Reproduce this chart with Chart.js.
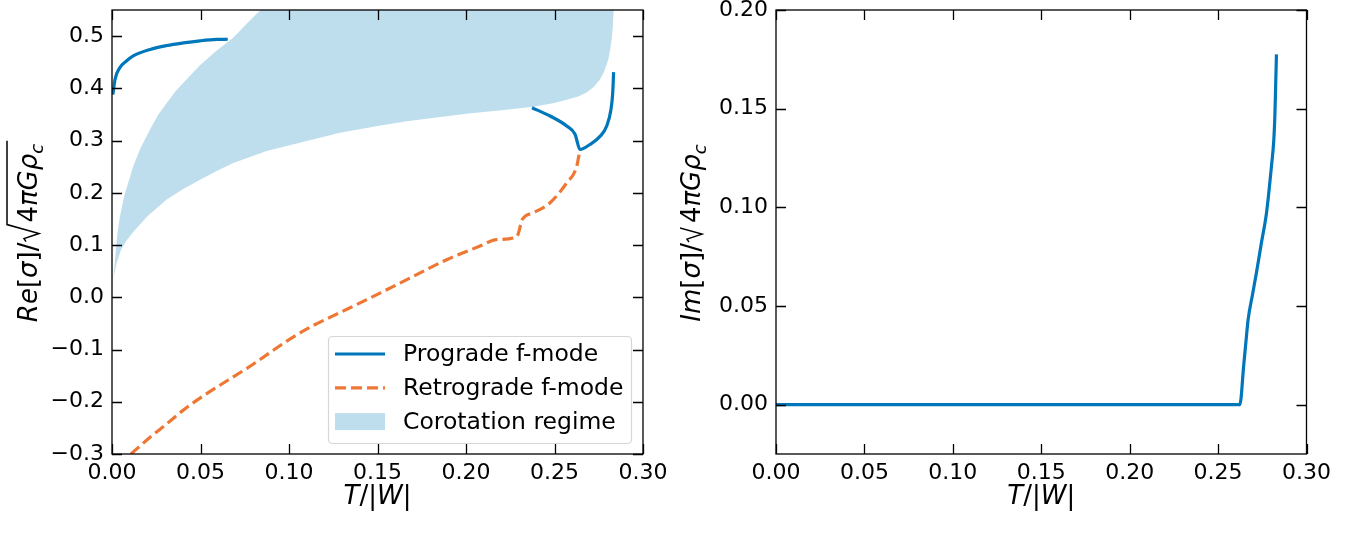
<!DOCTYPE html>
<html lang="en">
<head>
<meta charset="UTF-8">
<title>f-mode frequencies vs T/|W|</title>
<script src="https://cdn.jsdelivr.net/npm/chart.js@4/dist/chart.umd.min.js"></script>
<style>
  html, body { margin: 0; padding: 0; background: #fff; }
  #wrap { position: relative; width: 1359px; height: 534px; }
  canvas { position: absolute; top: 0; }
  #reChart { left: 0; }
  #imChart { left: 680px; }
</style>
</head>
<body>
<div id="wrap">
  <canvas id="reChart" width="680" height="534"></canvas>
  <canvas id="imChart" width="679" height="534"></canvas>
</div>
<script>
// ---------------------------------------------------------------------------
// Daten
// ---------------------------------------------------------------------------
const T_TICKS  = [0, 0.05, 0.10, 0.15, 0.20, 0.25, 0.30];
const RE_TICKS = [-0.3, -0.2, -0.1, 0.0, 0.1, 0.2, 0.3, 0.4, 0.5];
const IM_TICKS = [0, 0.05, 0.10, 0.15, 0.20];

// Prograde f-mode, zwei Aeste (null = Luecke)
const proT  = [0.0005, 0.0017, 0.0045, 0.008, 0.012, 0.0215, 0.031, 0.0403, 0.0497, 0.0591, 0.0654,
               0.15,
               0.2373, 0.2475, 0.2569, 0.2616, 0.2644, 0.2700, 0.2757, 0.2795, 0.2819, 0.2829, 0.2834];
const proRe = [0.388, 0.417, 0.440, 0.452, 0.462, 0.4745, 0.482, 0.487, 0.491, 0.4937, 0.494,
               null,
               0.363, 0.347, 0.328, 0.312, 0.283, 0.2925, 0.308, 0.328, 0.3596, 0.392, 0.431];

// Retrograde f-mode
const retroT  = [0.0107, 0.0215, 0.030, 0.0403, 0.0497, 0.078, 0.1062, 0.1345, 0.1514, 0.1702, 0.1891,
                 0.2079, 0.2173, 0.2286, 0.232, 0.238, 0.2475, 0.2569, 0.2625, 0.2644];
const retroRe = [-0.300, -0.268, -0.245, -0.216, -0.193, -0.132, -0.068, -0.020, 0.008, 0.040, 0.072,
                 0.098, 0.1105, 0.1157, 0.150, 0.1617, 0.181, 0.219, 0.250, 0.283];

// Corotation regime: untere und obere Grenze
const coLowT  = [0, 0.001, 0.0026, 0.005, 0.008, 0.012, 0.020, 0.0309, 0.040, 0.0497, 0.060, 0.0685,
                 0.0874, 0.106, 0.1288, 0.150, 0.1665, 0.190, 0.2041, 0.220, 0.238, 0.250, 0.2569,
                 0.263, 0.2682, 0.272, 0.2757, 0.278, 0.2804, 0.2815, 0.2823, 0.2830, 0.2834, 0.2836];
const coLowRe = [0.0, 0.040, 0.065, 0.090, 0.108, 0.125, 0.155, 0.187, 0.207, 0.225, 0.243, 0.257,
                 0.280, 0.296, 0.315, 0.328, 0.337, 0.347, 0.353, 0.358, 0.365, 0.372, 0.378,
                 0.384, 0.392, 0.402, 0.417, 0.432, 0.455, 0.475, 0.494, 0.520, 0.551, 0.60];
const coUpT   = [0, 0.001, 0.0017, 0.003, 0.0045, 0.007, 0.012, 0.016, 0.0215, 0.026, 0.0309, 0.036,
                 0.0426, 0.0497, 0.059, 0.0685, 0.0765, 0.0842, 0.095, 0.2836];
const coUpRe  = [0.0, 0.045, 0.072, 0.120, 0.155, 0.195, 0.251, 0.285, 0.321, 0.349, 0.372, 0.395,
                 0.419, 0.444, 0.472, 0.497, 0.525, 0.551, 0.58, 0.60];

// Imaginaerteil
const imT   = [0, 0.2623, 0.2645, 0.2657, 0.267, 0.2695, 0.2717, 0.2745, 0.2774, 0.2802, 0.2815, 0.2821, 0.2826, 0.283];
const imVal = [0, 0, 0.020, 0.0314, 0.0432, 0.056, 0.0669, 0.082, 0.0973, 0.121, 0.134, 0.146, 0.163, 0.1775];

// ---------------------------------------------------------------------------
// Stil
// ---------------------------------------------------------------------------
const BLUE   = '#0077bb';
const ORANGE = '#ee7733';
const BAND   = 'rgba(190,222,237,1)';
const FONT   = "'DejaVu Sans'";

const pts = (xs, ys) => xs.map((x, i) => ({ x, y: ys[i] }));
const fmt = (v, d) => (v < -1e-9 ? '\u2212' : '') + Math.abs(v).toFixed(d);

// Text aus Stuecken (kursiv / aufrecht) zeichnen
function pieceWidth(ctx, parts, size) {
  let w = 0;
  for (const p of parts) {
    ctx.font = `${p.it ? 'oblique ' : ''}${size}px ${FONT}`;
    w += ctx.measureText(p.t).width;
  }
  return w;
}
function drawPieces(ctx, parts, x, y, size) {
  for (const p of parts) {
    ctx.font = `${p.it ? 'oblique ' : ''}${size}px ${FONT}`;
    ctx.fillText(p.t, x, y);
    x += ctx.measureText(p.t).width;
  }
  return x;
}

const X_TITLE = [{ t: 'T', it: true }, { t: '/', it: false }, { t: '|', it: false }, { t: 'W', it: true }, { t: '|', it: false }];
const LABEL_SIZE = 26;

function drawYTitle(ctx, name, xBase, cy) {
  const s = LABEL_SIZE;
  const pre = [{ t: name, it: true }, { t: '[', it: false }, { t: 'σ', it: true }, { t: ']', it: false }, { t: '/', it: false }];
  const rad = [{ t: '4', it: false }, { t: 'π', it: true }, { t: 'G', it: true }, { t: 'ρ', it: true }];
  const wPre = pieceWidth(ctx, pre, s);
  const wRadSign = 20;
  const wRad = pieceWidth(ctx, rad, s);
  ctx.font = `oblique 18px ${FONT}`;
  const wSub = ctx.measureText('c').width;
  const total = wPre + wRadSign + wRad + wSub + 2;

  ctx.save();
  ctx.translate(xBase, cy);
  ctx.rotate(-Math.PI / 2);
  ctx.fillStyle = '#000';
  ctx.textBaseline = 'alphabetic';
  ctx.textAlign = 'left';
  let u = -total / 2;
  u = drawPieces(ctx, pre, u, 0, s);
  // Wurzelzeichen
  const a = u;
  ctx.strokeStyle = '#000';
  ctx.lineWidth = 1.5;
  ctx.beginPath();
  ctx.moveTo(a + 1, -11);
  ctx.lineTo(a + 4, -13);
  ctx.lineTo(a + 9, 2);
  ctx.lineTo(a + 18, -30);
  ctx.lineTo(a + wRadSign + wRad + wSub + 3, -30);
  ctx.stroke();
  u = drawPieces(ctx, rad, a + wRadSign, 0, s);
  ctx.font = `oblique 18px ${FONT}`;
  ctx.fillText('c', u, 6);
  ctx.restore();
}

// Rahmen, nach innen zeigende Ticks, Achsentitel
const mplFrame = {
  id: 'mplFrame',
  afterDraw(chart, args, opts) {
    const { ctx, chartArea: a, scales: { x, y } } = chart;
    ctx.save();
    ctx.strokeStyle = '#000';
    ctx.lineWidth = 1.3;
    ctx.strokeRect(a.left, a.top, a.right - a.left, a.bottom - a.top);
    const L = 10;
    ctx.beginPath();
    x.ticks.forEach(t => {
      const px = Math.round(x.getPixelForValue(t.value)) + 0.5;
      ctx.moveTo(px, a.bottom); ctx.lineTo(px, a.bottom - L);
      ctx.moveTo(px, a.top);    ctx.lineTo(px, a.top + L);
    });
    y.ticks.forEach(t => {
      const py = Math.round(y.getPixelForValue(t.value)) + 0.5;
      ctx.moveTo(a.left, py);  ctx.lineTo(a.left + L, py);
      ctx.moveTo(a.right, py); ctx.lineTo(a.right - L, py);
    });
    ctx.stroke();

    // x-Titel
    ctx.fillStyle = '#000';
    ctx.textBaseline = 'alphabetic';
    ctx.textAlign = 'left';
    const w = pieceWidth(ctx, X_TITLE, LABEL_SIZE);
    drawPieces(ctx, X_TITLE, (a.left + a.right) / 2 - w / 2, 504, LABEL_SIZE);

    // y-Titel
    drawYTitle(ctx, opts.name, a.left - opts.titleOffset, (a.top + a.bottom) / 2);
    ctx.restore();
  }
};

// Legende innerhalb des Plots (unten rechts)
const mplLegend = {
  id: 'mplLegend',
  afterDraw(chart, args, opts) {
    if (!opts.show) return;
    const { ctx, chartArea: a } = chart;
    const bx = a.left + 216, by = a.top + 326, bw = 303, bh = 107;
    ctx.save();
    ctx.fillStyle = 'rgba(255,255,255,0.8)';
    ctx.strokeStyle = '#d6d6d6';
    ctx.lineWidth = 1.2;
    ctx.beginPath();
    ctx.roundRect(bx + 0.5, by + 0.5, bw, bh, 4);
    ctx.fill();
    ctx.stroke();
    ctx.font = `23.5px ${FONT}`;
    ctx.textBaseline = 'middle';
    ctx.textAlign = 'left';
    chart.data.datasets.forEach((ds, i) => {
      const cy = by + 18 + i * 33.8;
      if (ds.fill) {
        ctx.fillStyle = ds.backgroundColor;
        ctx.fillRect(bx + 7, cy - 8.5, 50, 17);
      } else {
        ctx.strokeStyle = ds.borderColor;
        ctx.lineWidth = ds.borderWidth;
        ctx.setLineDash(ds.borderDash || []);
        ctx.beginPath();
        ctx.moveTo(bx + 7, cy);
        ctx.lineTo(bx + 57, cy);
        ctx.stroke();
        ctx.setLineDash([]);
      }
      ctx.fillStyle = '#000';
      ctx.fillText(ds.label, bx + 75, cy + 1);
    });
    ctx.restore();
  }
};

function makeOptions(yMin, yMax, yTicks, yDec, padRight, name, titleOffset, showLegend) {
  const tickFont = { family: FONT, size: 22, lineHeight: 1.0 };
  const noGrid = { display: false, drawTicks: false, tickLength: 0 };
  return {
    responsive: false,
    animation: false,
    layout: { padding: { top: 10, right: padRight, left: 0, bottom: 0 } },
    elements: { point: { radius: 0, hoverRadius: 0 }, line: { tension: 0 } },
    plugins: {
      legend: { display: false },
      tooltip: { enabled: false },
      mplFrame: { name, titleOffset },
      mplLegend: { show: showLegend },
    },
    scales: {
      x: {
        type: 'linear', min: 0, max: 0.3,
        grid: noGrid, border: { display: false },
        afterBuildTicks: s => { s.ticks = T_TICKS.map(v => ({ value: v })); },
        afterFit: s => { s.height = 80; s.paddingLeft = 0; s.paddingRight = 0; },
        ticks: { color: '#000', font: tickFont, padding: 8, maxRotation: 0, autoSkip: false,
                 callback: v => fmt(v, 2) },
      },
      y: {
        type: 'linear', min: yMin, max: yMax,
        grid: noGrid, border: { display: false },
        afterBuildTicks: s => { s.ticks = yTicks.map(v => ({ value: v })); },
        afterFit: s => { s.width = 112 - (name === 'Im' ? 16 : 0); s.paddingTop = 0; s.paddingBottom = 0; },
        ticks: { color: '#000', font: tickFont, padding: 8, autoSkip: false,
                 callback: v => fmt(v, yDec) },
      },
    },
  };
}

new Chart(document.getElementById('reChart'), {
  type: 'line',
  plugins: [mplFrame, mplLegend],
  data: {
    datasets: [
      { label: 'Prograde f-mode', data: pts(proT, proRe), borderColor: BLUE, borderWidth: 3.2,
        spanGaps: false, fill: false, cubicInterpolationMode: 'monotone' },
      { label: 'Retrograde f-mode', data: pts(retroT, retroRe), borderColor: ORANGE, borderWidth: 3.2,
        borderDash: [11, 5], fill: false, cubicInterpolationMode: 'monotone' },
      { label: 'Corotation regime',
        data: pts(coLowT, coLowRe).concat(pts(coUpT, coUpRe).reverse()),
        borderWidth: 0, borderColor: 'rgba(0,0,0,0)', backgroundColor: BAND, fill: 'shape' },
    ],
  },
  options: makeOptions(-0.3, 0.55, RE_TICKS, 1, 37, 'Re', 75, true),
});

new Chart(document.getElementById('imChart'), {
  type: 'line',
  plugins: [mplFrame, mplLegend],
  data: {
    datasets: [
      { label: 'Prograde f-mode', data: pts(imT, imVal), borderColor: BLUE, borderWidth: 3.2, fill: false,
        cubicInterpolationMode: 'monotone' },
    ],
  },
  options: makeOptions(-0.025, 0.20, IM_TICKS, 2, 52.5, 'Im', 76, false),
});
</script>
</body>
</html>
